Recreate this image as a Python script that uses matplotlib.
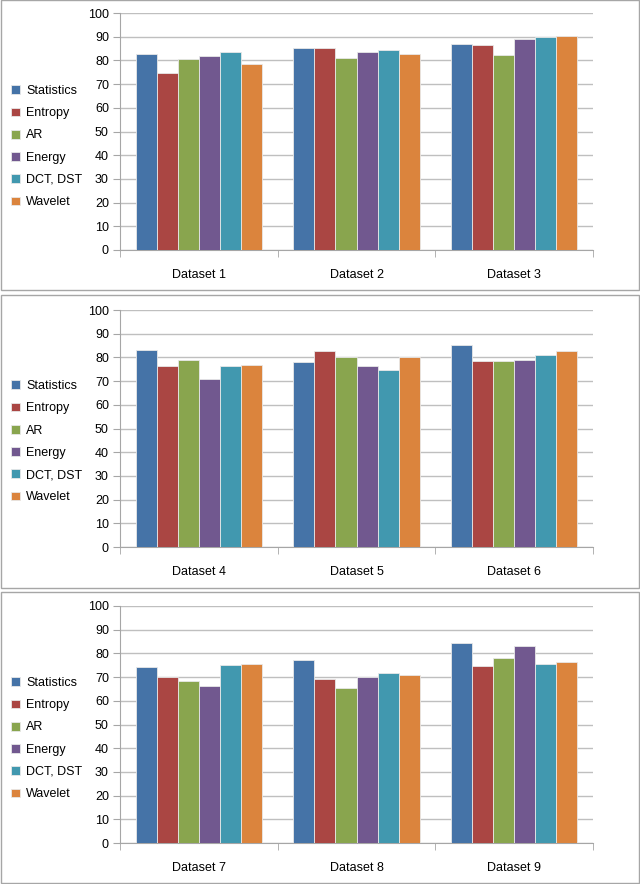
import numpy as np
import matplotlib
matplotlib.use('Agg')
import matplotlib.pyplot as plt
from matplotlib.patches import Rectangle

plt.rcParams['font.family'] = ['Liberation Sans', 'DejaVu Sans']

methods = ['Statistics', 'Entropy', 'AR', 'Energy', 'DCT, DST', 'Wavelet']
colors = ['#4573A7', '#AA4643', '#89A54E', '#71588F', '#4198AF', '#DB843D']

datasets = [['Dataset 1', 'Dataset 2', 'Dataset 3'],
            ['Dataset 4', 'Dataset 5', 'Dataset 6'],
            ['Dataset 7', 'Dataset 8', 'Dataset 9']]

# rows = dataset, columns = method
panel1 = [[82.7, 74.5, 80.8, 81.7, 83.7, 78.3],
          [85.4, 85.4, 81.0, 83.7, 84.2, 82.5],
          [87.0, 86.4, 82.3, 88.9, 89.8, 90.4]]
panel2 = [[83.0, 76.2, 78.7, 70.8, 76.5, 76.7],
          [78.0, 82.8, 80.1, 76.5, 74.8, 80.1],
          [85.3, 78.3, 78.6, 79.0, 81.1, 82.8]]
panel3 = [[74.4, 70.0, 68.4, 66.2, 75.0, 75.4],
          [77.2, 69.3, 65.2, 70.0, 71.6, 70.9],
          [84.5, 74.7, 78.0, 83.0, 75.5, 76.3]]
panels = [panel1, panel2, panel3]

W, H = 640, 884
fig = plt.figure(figsize=(W / 100, H / 100), dpi=100)

# panel frames (pixels: top, bottom) and axes (pixels: top, bottom)
frames = [(0, 290), (295, 588), (592, 883)]
axes_px = [(13, 250), (310, 547), (606, 843)]
ax_left, ax_right = 120, 593

for p in range(3):
    ft, fb = frames[p]
    fig.patches.append(Rectangle((0.5 / W, 1 - fb / H), (W - 1.5) / W, (fb - ft) / H,
                                 transform=fig.transFigure, fill=False,
                                 edgecolor='#A6A6A6', linewidth=1.0))
    at, ab = axes_px[p]
    ax = fig.add_axes([ax_left / W, 1 - ab / H, (ax_right - ax_left) / W, (ab - at) / H])
    data = np.array(panels[p])
    x = np.arange(3)
    bw = 0.8 / 6
    for m in range(6):
        ax.bar(x - 0.4 + bw * (m + 0.5), data[:, m], width=bw, color=colors[m],
               edgecolor='#E8E8E8', linewidth=0.6, label=methods[m], zorder=3)
    ax.set_xlim(-0.5, 2.5)
    ax.set_ylim(0, 100)
    ax.set_yticks(range(0, 101, 10))
    ax.yaxis.grid(True, color='#BFBFBF', linewidth=1.0, zorder=0)
    ax.set_xticks(x)
    ax.set_xticklabels(datasets[p])
    ax.set_xticks([-0.5, 0.5, 1.5, 2.5], minor=True)
    ax.tick_params(axis='x', which='major', length=0, pad=14, labelsize=9)
    ax.tick_params(axis='x', which='minor', length=5, color='#A6A6A6', direction='out')
    ax.tick_params(axis='y', length=5, color='#A6A6A6', labelsize=9, pad=3)
    for s in ['top', 'right']:
        ax.spines[s].set_visible(False)
    for s in ['left', 'bottom']:
        ax.spines[s].set_color('#A6A6A6')
    ax.set_axisbelow(True)
    handles, labels = ax.get_legend_handles_labels()
    leg_top = ft + 80
    fig.legend(handles, labels, loc='upper left',
               bbox_to_anchor=(6 / W, 1 - leg_top / H), frameon=False,
               fontsize=9, handlelength=0.7, handleheight=0.7,
               handletextpad=0.5, labelspacing=0.82, borderaxespad=0)

fig.savefig('out.png', dpi=100)
